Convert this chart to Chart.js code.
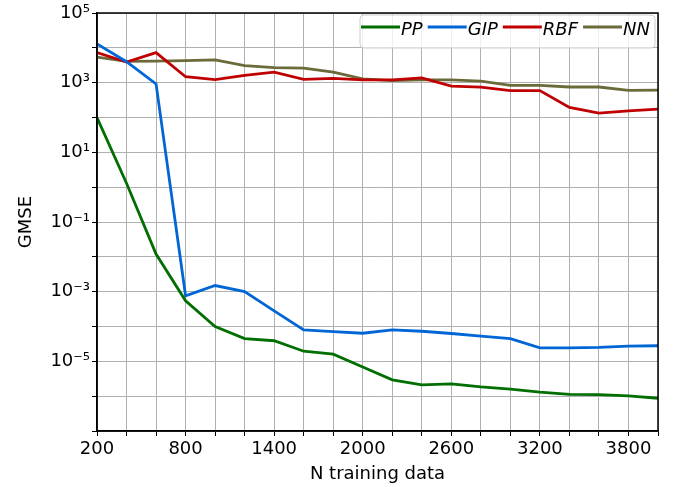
<!DOCTYPE html>
<html>
<head>
<meta charset="utf-8">
<script src="https://cdn.jsdelivr.net/npm/chart.js@4/dist/chart.umd.min.js"></script>
<style>
  html, body { margin: 0; padding: 0; background: #fff; }
  #wrap { width: 678px; height: 487px; }
</style>
</head>
<body>
<div id="wrap"><canvas id="c" width="678" height="487"></canvas></div>
<script>
const nTraining = [200, 400, 600, 800, 1000, 1200, 1400, 1600, 1800, 2000, 2200, 2400, 2600, 2800, 3000, 3200, 3400, 3600, 3800, 4000];
const gmsePP  = [100, 1.3, 0.012, 5.5e-4, 1.0e-4, 4.5e-5, 3.9e-5, 1.95e-5, 1.6e-5, 6.9e-6, 2.95e-6, 2.1e-6, 2.25e-6, 1.85e-6, 1.6e-6, 1.3e-6, 1.12e-6, 1.1e-6, 1.02e-6, 8.7e-7];
const gmseGIP = [13000, 4000, 920, 7.6e-4, 1.5e-3, 1.0e-3, 2.8e-4, 8.0e-5, 7.1e-5, 6.4e-5, 8.0e-5, 7.3e-5, 6.3e-5, 5.3e-5, 4.5e-5, 2.45e-5, 2.45e-5, 2.5e-5, 2.75e-5, 2.8e-5];
const gmseRBF = [7300, 3900, 7300, 1480, 1230, 1630, 2000, 1250, 1320, 1200, 1200, 1370, 800, 740, 590, 590, 195, 134, 156, 174];
const gmseNN  = [5400, 4100, 4150, 4300, 4500, 3100, 2700, 2600, 2000, 1290, 1150, 1200, 1200, 1100, 840, 840, 750, 750, 600, 610];
const seriesNames = ["PP", "GIP", "RBF", "NN"];
const seriesColors = ["#006e00", "#0066d6", "#c00000", "#6b6b3a"];
const yExponents = [-7, -6, -5, -4, -3, -2, -1, 0, 1, 2, 3, 4, 5];
const yLabelExponents = [-5, -3, -1, 1, 3, 5];
const xLabelValues = [200, 800, 1400, 2000, 2600, 3200, 3800];

const FONT = "'DejaVu Sans', sans-serif";
const sup = {"-":"\u207B","0":"\u2070","1":"\u00B9","2":"\u00B2","3":"\u00B3","4":"\u2074","5":"\u2075","6":"\u2076","7":"\u2077","8":"\u2078","9":"\u2079"};
function supText(n) { return String(n).split("").map(ch => sup[ch]).join(""); }

const seriesValues = [gmsePP, gmseGIP, gmseRBF, gmseNN];
const datasets = seriesNames.map((name, i) => ({
  label: name,
  data: nTraining.map((x, j) => ({ x: x, y: seriesValues[i][j] })),
  borderColor: seriesColors[i],
  backgroundColor: seriesColors[i],
  borderWidth: 2.8,
  pointRadius: 0,
  tension: 0,
  fill: false
}));

const framePlugin = {
  id: "frame",
  afterDatasetsDraw(chart) {
    const { ctx, chartArea: a } = chart;
    ctx.save();
    ctx.strokeStyle = "#000";
    ctx.lineWidth = 1.5;
    ctx.strokeRect(a.left, a.top, a.right - a.left, a.bottom - a.top);
    ctx.restore();
  },
  afterDraw(chart) {
    const { ctx, chartArea: a } = chart;
    ctx.save();
    const bx = 360, by = 15, bw = a.right - 3 - bx, bh = 33;
    ctx.beginPath();
    ctx.roundRect(bx, by, bw, bh, 4);
    ctx.fillStyle = "rgba(255,255,255,0.8)";
    ctx.fill();
    ctx.strokeStyle = "#cccccc";
    ctx.lineWidth = 1;
    ctx.stroke();
    ctx.font = "italic 18px " + FONT;
    ctx.textBaseline = "middle";
    let x = bx + 1;
    const yMid = by + 12;
    chart.data.datasets.forEach(ds => {
      ctx.strokeStyle = ds.borderColor;
      ctx.lineWidth = 2.8;
      ctx.beginPath();
      ctx.moveTo(x, yMid);
      ctx.lineTo(x + 39, yMid);
      ctx.stroke();
      x += 40;
      ctx.fillStyle = "#000";
      ctx.fillText(ds.label, x, yMid + 3);
      x += ctx.measureText(ds.label).width + 5;
    });
    ctx.restore();
  }
};

new Chart(document.getElementById("c"), {
  type: "line",
  data: { datasets: datasets },
  plugins: [framePlugin],
  options: {
    responsive: false,
    animation: false,
    layout: { padding: { top: 13, right: 20, left: 0, bottom: 0 } },
    plugins: { legend: { display: false }, tooltip: { enabled: false } },
    scales: {
      x: {
        type: "linear",
        min: 200,
        max: 4000,
        afterFit: s => { s.height = 56; },
        afterBuildTicks: s => { s.ticks = nTraining.map(v => ({ value: v })); },
        ticks: {
          autoSkip: false,
          maxRotation: 0,
          padding: 3,
          color: "#000",
          font: { family: FONT, size: 18 },
          callback: v => xLabelValues.includes(v) ? String(v) : ""
        },
        grid: { color: "#b0b0b0", lineWidth: 1, tickColor: "#000", tickLength: 5 },
        border: { display: true, color: "#000", width: 1.5 },
        title: { display: true, text: "N training data", color: "#000", font: { family: FONT, size: 18 }, padding: { top: 0, bottom: 2 } }
      },
      y: {
        type: "logarithmic",
        min: 1e-7,
        max: 1e5,
        afterFit: s => { s.width = 97; },
        afterBuildTicks: s => { s.ticks = yExponents.map(e => ({ value: Math.pow(10, e) })); },
        ticks: {
          autoSkip: false,
          padding: 2,
          color: "#000",
          font: { family: FONT, size: 18 },
          callback: v => {
            const e = Math.round(Math.log10(v));
            return yLabelExponents.includes(e) ? "10" + supText(e) : "";
          }
        },
        grid: { color: "#b0b0b0", lineWidth: 1, tickColor: "#000", tickLength: 5 },
        border: { display: true, color: "#000", width: 1.5 },
        title: { display: true, text: "GMSE", color: "#000", font: { family: FONT, size: 18 }, padding: { top: 16, bottom: 0 } }
      }
    }
  }
});
</script>
</body>
</html>
